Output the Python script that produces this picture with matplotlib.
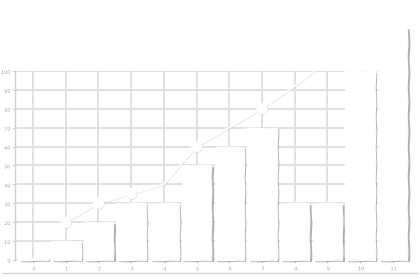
import matplotlib
matplotlib.use("Agg")
import matplotlib.pyplot as plt
import matplotlib.patheffects as pe
from matplotlib.lines import Line2D

# bar heights per category
cats = list(range(12))
bar_vals = [1, 10, 20, 30, 30, 50, 60, 70, 30, 30, 100, 123]

# white line on top, markers only on some points
line_x = [1, 2, 3, 4, 5, 6, 7, 8, 9]
line_y = [20, 30, 35, 40, 60, 70, 80, 92, 105]
marked = [0, 1, 2, 4, 6]

yticks = list(range(0, 101, 10))

shadow = [pe.SimplePatchShadow(offset=(1.8, -1.2), shadow_rgbFace='#707070', alpha=0.55), pe.Normal()]
tshadow = [pe.SimplePatchShadow(offset=(0.6, -0.6), shadow_rgbFace='#606060', alpha=0.7), pe.Normal()]

fig = plt.figure(figsize=(4.2, 2.78), dpi=100)
ax = fig.add_axes([0.036, 0.065, 0.938, 0.68])

bars = ax.bar(cats, bar_vals, width=0.9, color='white', edgecolor='white',
              linewidth=0.8, zorder=3, clip_on=False)
for b in bars:
    b.set_sketch_params(0.35, 30, 1)
    b.set_path_effects(shadow)

ln, = ax.plot(line_x, line_y, color='white', lw=1.2, marker='o', markersize=7,
              markevery=marked, markerfacecolor='white', markeredgecolor='white', zorder=2)
ln.set_path_effects([pe.SimpleLineShadow(offset=(0.5, -0.5), shadow_color='#b0b0b0', alpha=0.3), pe.Normal()])

ax.set_xlim(-0.55, 11.5)
ax.set_ylim(0, 100)
ax.set_xticks(cats)
ax.set_yticks(yticks)
ax.tick_params(labelsize=3.5, labelcolor='white', color='#c8c8c8', length=2, width=0.6, pad=2)
for t in ax.get_xticklabels() + ax.get_yticklabels():
    t.set_path_effects(tshadow)

ax.grid(True, color='#dedede', lw=1.3, zorder=1)
ax.set_axisbelow(True)

for s in ['top', 'right', 'bottom']:
    ax.spines[s].set_visible(False)
ax.spines['left'].set_color('#d0d0d0')
ax.spines['left'].set_linewidth(1.0)
ax.spines['left'].set_path_effects(shadow)

# long baseline under the tick labels
base = Line2D([0.008, 0.993], [0.018, 0.018], transform=fig.transFigure,
              color='#d4d4d4', lw=1.0)
base.set_path_effects(shadow)
fig.add_artist(base)

fig.savefig("out.png", dpi=100, facecolor='white')
